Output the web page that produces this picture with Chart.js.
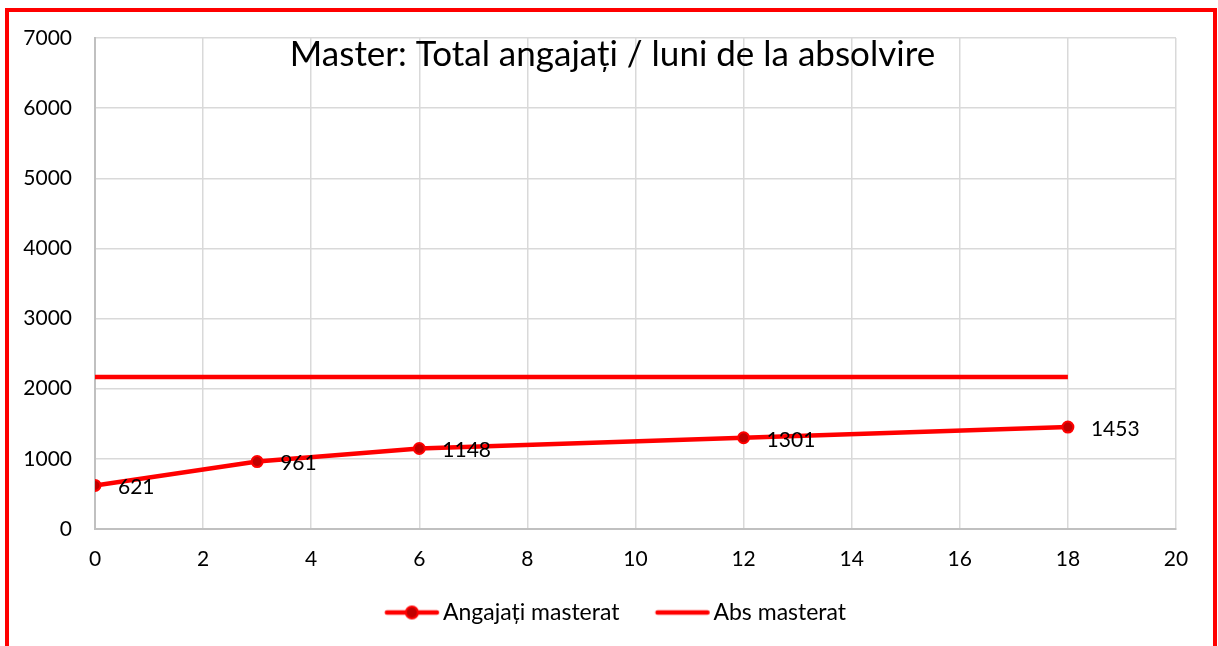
<!DOCTYPE html>
<html>
<head>
<meta charset="utf-8">
<script src="https://cdn.jsdelivr.net/npm/chart.js@4/dist/chart.umd.min.js"></script>
<style>
  html, body { margin: 0; padding: 0; background: #ffffff; }
  #wrap { position: relative; width: 1218px; height: 646px; overflow: hidden; }
  #frame { position: absolute; left: 5px; top: 8px; width: 1204px; height: 700px; border: 4px solid #ff0000; pointer-events: none; }
  canvas { position: absolute; left: 0; top: 0; }
</style>
</head>
<body>
<div id="wrap">
  <canvas id="c" width="1218" height="646"></canvas>
  <div id="frame"></div>
</div>
<script>
const chartTitle = 'Master: Total angajați / luni de la absolvire';
const months = [0, 3, 6, 12, 18];
const angajatiMasterat = [621, 961, 1148, 1301, 1453];
const absMonths = [0, 18];
const absMasterat = [2167, 2167];
const seriesNames = ['Angajați masterat', 'Abs masterat'];
const FONT = 'Lato, "Noto Sans", sans-serif';

// legend icon: image 120 wide, line drawn offset so that hitbox leaves leading gap
function legendIcon(withDot) {
  const cv = document.createElement('canvas');
  cv.width = 120; cv.height = 18;
  const g = cv.getContext('2d');
  const x0 = 49.75, x1 = 103.75, cy = 9;
  g.strokeStyle = '#ff0000'; g.lineWidth = 4.5; g.lineCap = 'round';
  g.beginPath(); g.moveTo(x0 + 2, cy); g.lineTo(x1 - 2, cy); g.stroke();
  if (withDot) {
    g.beginPath(); g.arc((x0 + x1) / 2, cy, 6, 0, Math.PI * 2);
    g.fillStyle = '#c00000'; g.fill();
    g.lineWidth = 2; g.strokeStyle = '#ff0000'; g.stroke();
  }
  return cv;
}
const icons = [legendIcon(true), legendIcon(false)];

const titlePlugin = {
  id: 'innerTitle',
  afterDraw(chart) {
    const ctx = chart.ctx;
    ctx.save();
    ctx.font = '35px ' + FONT;
    ctx.fillStyle = '#000000';
    ctx.textAlign = 'center';
    ctx.textBaseline = 'alphabetic';
    ctx.fillText(chartTitle, 612.5, 66);
    ctx.restore();
  }
};

const labelPlugin = {
  id: 'pointLabels',
  afterDatasetsDraw(chart) {
    const ctx = chart.ctx;
    const meta = chart.getDatasetMeta(0);
    ctx.save();
    ctx.font = '21px ' + FONT;
    ctx.fillStyle = '#000000';
    ctx.textAlign = 'left';
    ctx.textBaseline = 'middle';
    meta.data.forEach((pt, i) => {
      ctx.fillText(String(angajatiMasterat[i]), pt.x + 23, pt.y + 2);
    });
    ctx.restore();
  }
};

new Chart(document.getElementById('c'), {
  type: 'scatter',
  data: {
    datasets: [
      {
        label: seriesNames[0],
        data: months.map((m, i) => ({ x: m, y: angajatiMasterat[i] })),
        showLine: true,
        borderColor: '#ff0000',
        borderWidth: 4.5,
        pointRadius: 5.5,
        pointBorderWidth: 2,
        pointBackgroundColor: '#c00000',
        pointBorderColor: '#ff0000',
        pointStyle: 'circle',
        order: 1
      },
      {
        label: seriesNames[1],
        data: absMonths.map((m, i) => ({ x: m, y: absMasterat[i] })),
        showLine: true,
        borderColor: '#ff0000',
        borderWidth: 4.5,
        pointRadius: 0,
        order: 2
      }
    ]
  },
  options: {
    responsive: false,
    animation: false,
    layout: { padding: { top: 38, right: 13, left: 0, bottom: 12 } },
    scales: {
      x: {
        type: 'linear', min: 0, max: 20,
        ticks: { stepSize: 2, color: '#000000', font: { family: FONT, size: 21 }, padding: 18 },
        grid: { color: '#d9d9d9', lineWidth: 1.5, drawTicks: false },
        border: { color: '#c0c0c0', width: 2 },
        afterFit(s) { s.height = 62; }
      },
      y: {
        type: 'linear', min: 0, max: 7000,
        ticks: { stepSize: 1000, color: '#000000', font: { family: FONT, size: 21 }, padding: 23,
                 callback: v => String(v) },
        grid: { color: '#d9d9d9', lineWidth: 1.5, drawTicks: false },
        border: { color: '#c0c0c0', width: 2 },
        afterFit(s) { s.width = 95; }
      },
      y2: {
        type: 'linear', position: 'right', display: true,
        grid: { display: false, drawTicks: false },
        ticks: { display: false },
        border: { display: false },
        afterFit(s) { s.width = 29; }
      }
    },
    plugins: {
      title: { display: false },
      tooltip: { enabled: false },
      legend: {
        position: 'bottom',
        labels: {
          color: '#000000',
          font: { family: FONT, size: 23 },
          usePointStyle: true,
          pointStyleWidth: 72.5,
          boxHeight: 18,
          padding: 10,
          generateLabels(chart) {
            return chart.data.datasets.map((d, i) => ({
              text: d.label,
              pointStyle: icons[i],
              datasetIndex: i,
              hidden: false,
              lineWidth: 0,
              strokeStyle: 'transparent',
              fillStyle: 'transparent',
              fontColor: '#000000'
            }));
          }
        }
      }
    }
  },
  plugins: [titlePlugin, labelPlugin]
});
</script>
</body>
</html>
